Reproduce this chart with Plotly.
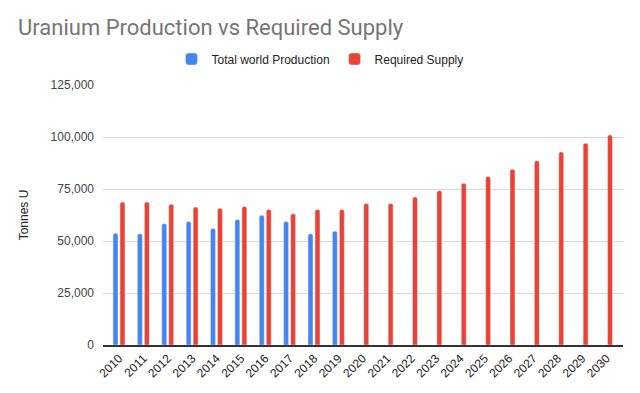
import plotly.graph_objects as go

years = list(range(2010, 2031))
production = [53671, 53493, 58344, 59331, 56041, 60304, 62366, 59342, 53498, 54742] + [None] * 11
required = [68700, 68700, 67700, 66300, 65700, 66600, 65200, 63100, 65200, 65200,
            68000, 68000, 71200, 74200, 77800, 81000, 84500, 88600, 92800, 97000, 101000]
y_ticks = [0, 25000, 50000, 75000, 100000, 125000]

fig = go.Figure()
fig.add_trace(go.Bar(x=years, y=production, name="Total world Production",
                     marker=dict(color="#4285F4", cornerradius=2)))
fig.add_trace(go.Bar(x=years, y=required, name="Required Supply",
                     marker=dict(color="#EA4335", cornerradius=2)))

fig.update_layout(
    width=640, height=393,
    margin=dict(l=103, r=17, t=85, b=47.5, autoexpand=False),
    paper_bgcolor="white", plot_bgcolor="white",
    barmode="group", bargap=0.426, bargroupgap=0.29,
    font=dict(family="Arial, 'Liberation Sans', sans-serif", size=12, color="#222222"),
    title=dict(text="Uranium Production vs Required Supply", x=18/640, xanchor="left",
               y=1 - 27/393, yanchor="middle",
               font=dict(family="Roboto, Arial, sans-serif", size=22, color="#757575")),
    legend=dict(orientation="h", xref="container", x=0.5, xanchor="center",
                yref="container", y=1 - 59/393, yanchor="middle",
                font=dict(size=12, color="#222222"), itemwidth=30, traceorder="normal"),
    showlegend=True,
)
fig.update_xaxes(range=[2009.344, 2030.677], tickmode="array", tickvals=years,
                 ticktext=[str(y) for y in years], tickangle=-45, showgrid=False,
                 showline=True, linecolor="#333333", linewidth=1.5, ticks="",
                 tickfont=dict(size=12, color="#222222"), zeroline=False, automargin=False)
fig.update_yaxes(range=[0, 125000], tickmode="array", tickvals=y_ticks,
                 ticktext=[f"{v:,}" for v in y_ticks], showgrid=True, gridcolor="#d9d9d9",
                 zeroline=False, ticks="", ticklabelstandoff=8, automargin=False,
                 tickfont=dict(size=12, color="#444444"),
                 title=dict(text="Tonnes U", font=dict(size=12, color="#222222"), standoff=19))

fig.write_html("out.html", config={"displayModeBar": False},
               post_script="document.body.style.margin='0';")
